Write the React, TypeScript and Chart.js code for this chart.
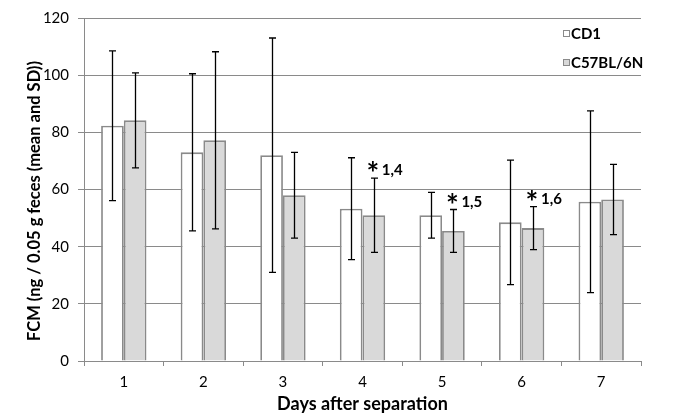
import React, { useEffect, useRef } from "react";
import { Chart, registerables } from "chart.js";

Chart.register(...registerables);

const days = ["1", "2", "3", "4", "5", "6", "7"];
const cd1Mean = [82.3, 73.0, 72.0, 53.3, 51.0, 48.5, 55.7];
const cd1Sd = [26.2, 27.5, 41.0, 17.8, 8.0, 21.8, 31.8];
const c57Mean = [84.2, 77.2, 58.0, 51.0, 45.5, 46.5, 56.5];
const c57Sd = [16.6, 31.0, 15.0, 13.0, 7.5, 7.5, 12.3];
const seriesNames = ["CD1", "C57BL/6N"];
const annotDayIndex = [3, 4, 5];
const annotLabels = ["1,4", "1,5", "1,6"];
const yTicks = [0, 20, 40, 60, 80, 100, 120];
const yTitle = "FCM (ng / 0.05 g feces (mean and SD))";
const xTitle = "Days after separation";

const FONT = "Lato, 'Open Sans', sans-serif";
const GRID = "#8a8a8a";

export default function App() {
  const ref = useRef<HTMLCanvasElement | null>(null);
  useEffect(() => {
    document.body.style.margin = "0";
    const canvas = ref.current!;
    const sds = [cd1Sd, c57Sd];

    const errorBars = {
      id: "errorBars",
      afterDatasetsDraw(chart: any) {
        const ctx = chart.ctx;
        const y = chart.scales.y;
        ctx.save();
        ctx.strokeStyle = "#000";
        ctx.lineWidth = 1.3;
        chart.data.datasets.forEach((ds: any, di: number) => {
          const meta = chart.getDatasetMeta(di);
          meta.data.forEach((el: any, i: number) => {
            const m = ds.data[i];
            const sd = sds[di][i];
            const yt = y.getPixelForValue(m + sd);
            const yb = y.getPixelForValue(m - sd);
            const x = Math.round(el.x) + 0.5;
            ctx.beginPath();
            ctx.moveTo(x, yt);
            ctx.lineTo(x, yb);
            ctx.moveTo(x - 3.5, yt);
            ctx.lineTo(x + 3.5, yt);
            ctx.moveTo(x - 3.5, yb);
            ctx.lineTo(x + 3.5, yb);
            ctx.stroke();
          });
        });
        // annotations on C57 bars
        const meta = chart.getDatasetMeta(1);
        ctx.fillStyle = "#000";
        annotDayIndex.forEach((di, k) => {
          const el: any = meta.data[di];
          const top = y.getPixelForValue(c57Mean[di] + c57Sd[di]);
          const base = top - 3;
          ctx.font = `bold 30px ${FONT}`;
          ctx.textAlign = "center";
          ctx.textBaseline = "alphabetic";
          ctx.fillText("*", el.x - 1, base + 9);
          ctx.font = `bold 15px ${FONT}`;
          ctx.textAlign = "left";
          ctx.fillText(annotLabels[k], el.x + 8, base);
        });
        // legend
        const fills = ["#ffffff", "#d9d9d9"];
        const ly = [33, 62];
        ctx.font = `bold 15px ${FONT}`;
        ctx.textBaseline = "middle";
        ctx.textAlign = "left";
        seriesNames.forEach((n, i) => {
          ctx.fillStyle = fills[i];
          ctx.fillRect(563, ly[i] - 3, 7, 7);
          ctx.strokeStyle = "#8a8a8a";
          ctx.lineWidth = 1;
          ctx.strokeRect(563.5, ly[i] - 2.5, 6, 6);
          ctx.fillStyle = "#000";
          ctx.fillText(n, 571, ly[i] + 1);
        });
        // y title
        ctx.font = `bold 16.5px ${FONT}`;
        ctx.textAlign = "center";
        ctx.textBaseline = "middle";
        ctx.translate(35, 201);
        ctx.rotate(-Math.PI / 2);
        ctx.fillText(yTitle, 0, 0);
        ctx.restore();
      },
    };

    const chart = new Chart(canvas, {
      type: "bar",
      data: {
        labels: days,
        datasets: [
          {
            label: seriesNames[0],
            data: cd1Mean,
            backgroundColor: "#ffffff",
            borderColor: "#8a8a8a",
            borderWidth: 1.8,
            categoryPercentage: 0.57,
            barPercentage: 1,
          },
          {
            label: seriesNames[1],
            data: c57Mean,
            backgroundColor: "#d9d9d9",
            borderColor: "#8a8a8a",
            borderWidth: 1.8,
            categoryPercentage: 0.57,
            barPercentage: 1,
          },
        ],
      },
      options: {
        animation: false,
        responsive: false,
        devicePixelRatio: 1,
        layout: { padding: { top: 18, right: 44, left: 0, bottom: 0 } },
        plugins: { legend: { display: false }, tooltip: { enabled: false } },
        scales: {
          x: {
            offset: true,
            grid: {
              offset: true,
              drawOnChartArea: false,
              color: GRID,
              tickLength: 5,
            },
            border: { color: GRID, width: 1 },
            ticks: { color: "#000", font: { family: FONT, size: 15 }, padding: 7 },
            title: {
              display: true,
              text: xTitle,
              color: "#000",
              font: { family: FONT, size: 18, weight: "bold" },
              padding: { top: 1 },
            },
            afterFit(scale: any) {
              scale.height = 58;
            },
          },
          y: {
            min: 0,
            max: 120,
            afterBuildTicks(scale: any) {
              scale.ticks = yTicks.map((v) => ({ value: v }));
            },
            grid: { color: GRID, tickLength: 6, lineWidth: 1 },
            border: { color: GRID, width: 1 },
            ticks: { color: "#000", font: { family: FONT, size: 15 }, padding: 9 },
            afterFit(scale: any) {
              scale.width = 84;
            },
          },
        },
      },
      plugins: [errorBars],
    } as any);
    return () => chart.destroy();
  }, []);
  return <canvas ref={ref} width={685} height={419} style={{ display: "block" }} />;
}
